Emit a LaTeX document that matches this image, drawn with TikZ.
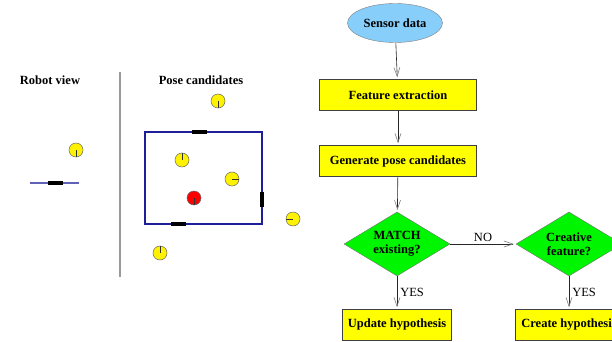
\documentclass[tikz,border=0pt]{standalone}
\usepackage{fontspec}
\setmainfont{Liberation Serif}
\usetikzlibrary{shapes.geometric,arrows.meta}

\definecolor{boxyellow}{HTML}{FFFF00}
\definecolor{testgreen}{HTML}{00F500}
\definecolor{sensorblue}{HTML}{87CEFA}
\definecolor{roomblue}{HTML}{1E1E96}
\definecolor{poseyellow}{HTML}{FFF200}

\begin{document}
\begin{tikzpicture}[x=1pt,y=-1pt,font=\fontsize{12.5}{14}\selectfont,
  procbox/.style={draw=black!75,fill=boxyellow,minimum height=31pt,font=\fontsize{12.5}{14}\selectfont\bfseries},
  decision/.style={diamond,draw=black!55,fill=testgreen,aspect=1.7,inner sep=0pt,
    minimum width=106pt,minimum height=64pt,align=center,font=\fontsize{12.5}{14}\selectfont\bfseries},
  flow/.style={draw=black!85,line width=0.6pt,shorten >=2pt,
    -{Straight Barb[length=9pt,width=6pt,line width=0.6pt,color=black!50]}},
  wall/.style={line width=4pt,black}]
\useasboundingbox (0,0) rectangle (612,342);

% left panel: robot view and pose candidates
\node[font=\fontsize{12.5}{14}\selectfont\bfseries] (robottitle) at (50,80) {Robot view};
\node[font=\fontsize{12.5}{14}\selectfont\bfseries] (posetitle) at (201,80) {Pose candidates};
\draw[black!40,line width=1.3pt] (120,72) -- (120,277);

\draw[roomblue!70,line width=1.1pt] (30,183) -- (79,183);
\draw[wall] (48,183) -- (63,183);

\draw[roomblue,line width=1.1pt] (145,132) rectangle (262,224);
\draw[wall] (192,132) -- (207,132);
\draw[wall] (171,224) -- (186,224);
\draw[wall] (262,192) -- (262,207);

% candidate poses: x/y/heading offset
\foreach \px/\py/\dx/\dy in {76/150/0/7,218/101/0/7,182/160/0/-7,232/179/7/0,293/219/-7/0,160/253/0/-7}{%
  \draw[black!60,fill=poseyellow,line width=0.5pt] (\px,\py) circle (7);
  \draw[black!80,line width=0.6pt] (\px,\py) -- ++(\dx,\dy);
}
\draw[black!60,fill=red,line width=0.5pt] (194,198) circle (7);
\draw[black!80,line width=0.6pt] (194,198) -- ++(0,7);

% flowchart
\node[ellipse,draw=black!50,fill=sensorblue,minimum width=95pt,minimum height=39pt,
  inner sep=0pt,font=\fontsize{12.5}{14}\selectfont\bfseries] (sensor) at (395,23) {Sensor data};
\node[procbox,minimum width=157pt] (feature) at (398,95) {Feature extraction};
\node[procbox,minimum width=157pt] (generate) at (398,161) {Generate pose candidates};
\node[decision] (match) at (397,244) {MATCH\\existing?};
\node[decision] (creative) at (569,244) {Creative\\feature?};
\node[procbox,minimum width=109pt] (update) at (397,325) {Update hypothesis};
\node[procbox,minimum width=108pt] (create) at (569,325) {Create hypothesis};

\draw[flow] (sensor) -- (feature);
\draw[flow] (feature) -- (generate);
\draw[flow] (generate) -- (match);
\draw[flow] (match) -- node[above,inner sep=2pt] {NO} (creative);
\draw[flow] (match) -- node[right,inner sep=3pt] {YES} (update);
\draw[flow] (creative) -- node[right,inner sep=3pt] {YES} (create);
\end{tikzpicture}
\end{document}
